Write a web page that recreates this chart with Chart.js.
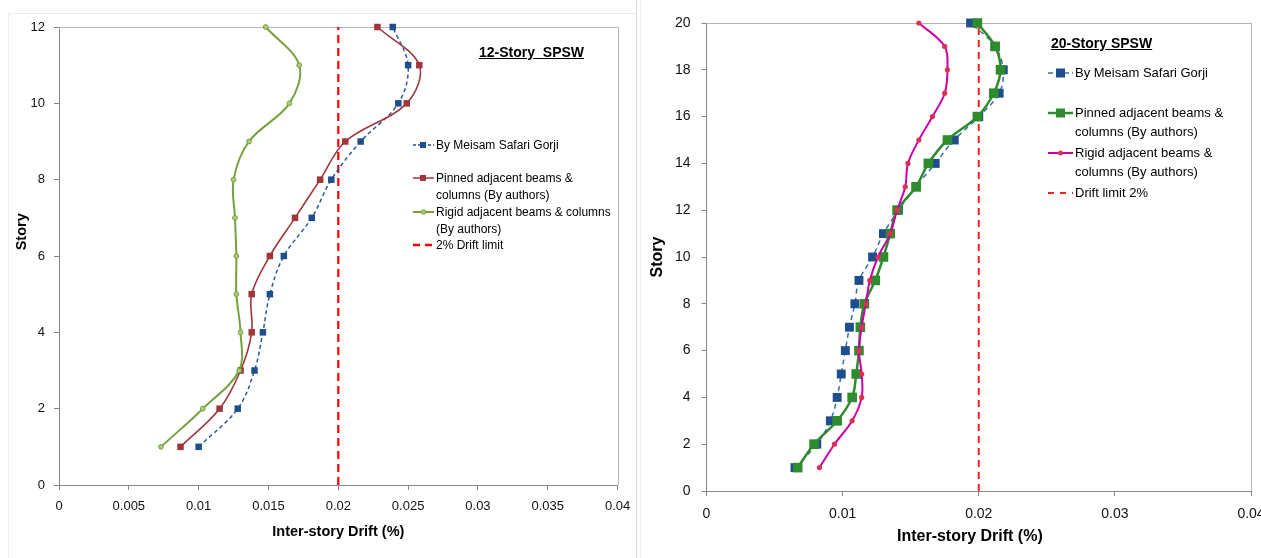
<!DOCTYPE html>
<html lang="en">
<head>
<meta charset="UTF-8">
<meta name="viewport" content="width=device-width, initial-scale=1.0">
<title>SPSW inter-story drift</title>
<style>
  body {
    margin: 0;
    width: 1261px;
    height: 558px;
    overflow: hidden;
    position: relative;
    background: #fff;
    font-family: "Liberation Sans", Arial, sans-serif;
    color: #000;
  }
  .panel { position: absolute; top: 0; height: 558px; }
  #panel12 { left: 0; width: 640px; }
  #panel20 { left: 641px; width: 640px; }
  .frame { position: absolute; left: 8px; top: 13px; width: 628px; height: 545px;
           border-left: 1px solid #ececec; border-top: 1px solid #ececec; }
  .sep { position: absolute; top: 0; height: 558px; width: 1px; }
  .title { position: absolute; font-weight: bold; font-size: 14px; text-decoration: underline;
           white-space: pre; line-height: 16px; }
  .leg { position: absolute; white-space: nowrap; }
  .leg svg { position: absolute; left: 0; }
  .leg span { position: absolute; }
  .l12 { font-size: 12px; line-height: 17px; }
  .l20 { font-size: 13px; line-height: 19px; }
</style>
</head>
<body>
  <div class="frame"></div>
  <div class="sep" style="left:636px;background:#d9d9d9"></div>
  <div class="sep" style="left:640px;background:#ededed"></div>

  <div class="panel" id="panel12"><canvas id="chart12"></canvas></div>
  <div class="panel" id="panel20"><canvas id="chart20"></canvas></div>

  <div class="title" style="left:479px;top:44px">12-Story  SPSW</div>
  <div class="title" style="left:1051px;top:35px">20-Story SPSW</div>

  <!-- legend, 12-story -->
  <div class="leg l12" style="left:413px;top:0">
    <svg width="21" height="12" style="top:139px"><line x1="0" y1="6" x2="21" y2="6" stroke="#1F4E8C" stroke-width="1.5" stroke-dasharray="3,2"/><rect x="7" y="3" width="6" height="6" fill="#1F4E8C"/></svg>
    <span style="left:23px;top:137px">By Meisam Safari Gorji</span>
    <svg width="21" height="12" style="top:172px"><line x1="0" y1="6" x2="21" y2="6" stroke="#A0353A" stroke-width="1.5"/><rect x="7" y="3" width="6" height="6" fill="#A0353A"/></svg>
    <span style="left:23px;top:170px">Pinned adjacent beams &amp;<br>columns (By authors)</span>
    <svg width="21" height="12" style="top:206px"><line x1="0" y1="6" x2="21" y2="6" stroke="#77A03C" stroke-width="2"/><circle cx="10.5" cy="6" r="2.3" fill="#A9CC7A" stroke="#77A03C"/></svg>
    <span style="left:23px;top:204px">Rigid adjacent beams &amp; columns<br>(By authors)</span>
    <svg width="21" height="12" style="top:239px"><line x1="0" y1="6" x2="21" y2="6" stroke="#FF0000" stroke-width="2.5" stroke-dasharray="7,5"/></svg>
    <span style="left:23px;top:237px">2% Drift limit</span>
  </div>

  <!-- legend, 20-story -->
  <div class="leg l20" style="left:1048px;top:0">
    <svg width="25" height="14" style="top:66px"><line x1="0" y1="7" x2="25" y2="7" stroke="#3A6FB0" stroke-width="1.5" stroke-dasharray="5,3"/><rect x="8" y="2.5" width="9" height="9" fill="#1F4E8C"/></svg>
    <span style="left:27px;top:63px">By Meisam Safari Gorji</span>
    <svg width="25" height="14" style="top:106px"><line x1="0" y1="7" x2="25" y2="7" stroke="#2E8B2E" stroke-width="2.5"/><rect x="8" y="2.5" width="9" height="9" fill="#2E8B2E"/></svg>
    <span style="left:27px;top:103px">Pinned adjacent beams &amp;<br>columns (By authors)</span>
    <svg width="25" height="14" style="top:146px"><line x1="0" y1="7" x2="25" y2="7" stroke="#CC00AA" stroke-width="2"/><circle cx="12.5" cy="7" r="2.5" fill="#E03050"/></svg>
    <span style="left:27px;top:143px">Rigid adjacent beams &amp;<br>columns (By authors)</span>
    <svg width="25" height="14" style="top:186px"><line x1="0" y1="7" x2="25" y2="7" stroke="#FF2020" stroke-width="2" stroke-dasharray="6,6"/></svg>
    <span style="left:27px;top:183px">Drift limit 2%</span>
  </div>

  <script src="https://cdn.jsdelivr.net/npm/chart.js"></script>
  <script>
// ---- data ----
const stories12 = [1, 2, 3, 4, 5, 6, 7, 8, 9, 10, 11, 12];
const gorji12  = [0.0100, 0.0128, 0.0140, 0.0146, 0.0151, 0.0161, 0.0181, 0.0195, 0.0216, 0.0243, 0.0250, 0.0239];
const pinned12 = [0.0087, 0.0115, 0.0130, 0.0138, 0.0138, 0.0151, 0.0169, 0.0187, 0.0205, 0.0249, 0.0258, 0.0228];
const rigid12  = [0.0073, 0.0103, 0.0129, 0.0130, 0.0127, 0.0127, 0.0126, 0.0125, 0.0136, 0.0165, 0.0172, 0.0148];

const stories20 = [1, 2, 3, 4, 5, 6, 7, 8, 9, 10, 11, 12, 13, 14, 15, 16, 17, 18, 19, 20];
const gorji20  = [0.0065, 0.0081, 0.0091, 0.0096, 0.0099, 0.0102, 0.0105, 0.0109, 0.0112, 0.0122,
                  0.0130, 0.0141, 0.0154, 0.0168, 0.0182, 0.0200, 0.0215, 0.0218, 0.0212, 0.0194];
const pinned20 = [0.0067, 0.0079, 0.0096, 0.0107, 0.0110, 0.0112, 0.0113, 0.0116, 0.0124, 0.0130,
                  0.0135, 0.0140, 0.0154, 0.0163, 0.0177, 0.0199, 0.0211, 0.0216, 0.0212, 0.0199];
const rigid20  = [0.0083, 0.0094, 0.0107, 0.0114, 0.0114, 0.0112, 0.0114, 0.0117, 0.0120, 0.0126,
                  0.0135, 0.0140, 0.0146, 0.0148, 0.0156, 0.0166, 0.0175, 0.0177, 0.0175, 0.0156];

const driftLimit = [0.02, 0.02];
const limitStories12 = [0, 12];
const limitStories20 = [0, 20];

// ticks
const xTicks12 = [0, 0.005, 0.01, 0.015, 0.02, 0.025, 0.03, 0.035, 0.04];
const xLabels12 = ['0', '0.005', '0.01', '0.015', '0.02', '0.025', '0.03', '0.035', '0.04'];
const yTicks12 = [0, 2, 4, 6, 8, 10, 12];
const xTicks20 = [0, 0.01, 0.02, 0.03, 0.04];
const xLabels20 = ['0', '0.01', '0.02', '0.03', '0.04'];
const yTicks20 = [0, 2, 4, 6, 8, 10, 12, 14, 16, 18, 20];

Chart.defaults.font.family = '"Liberation Sans", Arial, sans-serif';

const toPts = (xs, ys) => xs.map((x, i) => ({ x: x, y: ys[i] }));

// light grey top/right border of the plot area
const plotFrame = {
  id: 'plotFrame',
  beforeDatasetsDraw(chart) {
    const { ctx, chartArea: a } = chart;
    ctx.save();
    ctx.strokeStyle = '#b4b4b4';
    ctx.lineWidth = 1;
    ctx.beginPath();
    ctx.moveTo(a.left, Math.round(a.top) + 0.5);
    ctx.lineTo(Math.round(a.right) + 0.5, Math.round(a.top) + 0.5);
    ctx.lineTo(Math.round(a.right) + 0.5, a.bottom);
    ctx.stroke();
    ctx.restore();
  }
};

function axis(o) {
  return {
    type: 'linear',
    min: o.min,
    max: o.max,
    afterBuildTicks: s => { s.ticks = o.ticks.map(v => ({ value: v })); },
    afterFit: s => {
      if (o.width) s.width = o.width;
      if (o.height) s.height = o.height;
    },
    border: { color: '#868686', width: 1 },
    grid: { drawOnChartArea: false, tickLength: 5, tickColor: '#868686' },
    ticks: {
      color: '#111',
      font: { size: o.tickSize },
      padding: o.tickPad,
      callback: (v, i) => o.labels[i]
    },
    title: {
      display: true,
      text: o.title,
      color: '#000',
      font: { size: o.titleSize, weight: 'bold' },
      padding: o.titlePad
    }
  };
}

function makeChart(id, datasets, scales, padding) {
  new Chart(document.getElementById(id), {
    type: 'scatter',
    data: { datasets: datasets },
    options: {
      responsive: true,
      maintainAspectRatio: false,
      animation: false,
      layout: { padding: padding },
      plugins: { legend: { display: false }, tooltip: { enabled: false } },
      scales: scales
    },
    plugins: [plotFrame]
  });
}

// ---- 12-story ----
makeChart('chart12', [
  {
    label: 'By Meisam Safari Gorji',
    data: toPts(gorji12, stories12),
    showLine: true, tension: 0.35, clip: false, order: 2,
    borderColor: '#2A5A9C', borderWidth: 1.5, borderDash: [4, 3],
    pointStyle: 'rect', pointRadius: 4.6, pointBorderWidth: 0,
    pointBackgroundColor: '#1F4E8C'
  },
  {
    label: 'Pinned adjacent beams & columns (By authors)',
    data: toPts(pinned12, stories12),
    showLine: true, tension: 0.35, clip: false, order: 1,
    borderColor: '#A0353A', borderWidth: 1.6,
    pointStyle: 'rect', pointRadius: 4.6, pointBorderWidth: 0,
    pointBackgroundColor: '#A0353A'
  },
  {
    label: 'Rigid adjacent beams & columns (By authors)',
    data: toPts(rigid12, stories12),
    showLine: true, tension: 0.35, clip: false, order: 0,
    borderColor: '#77A03C', borderWidth: 2,
    pointStyle: 'circle', pointRadius: 2.4, pointBorderWidth: 1,
    pointBorderColor: '#77A03C', pointBackgroundColor: '#A9CC7A'
  },
  {
    label: '2% Drift limit',
    data: toPts(driftLimit, limitStories12),
    showLine: true, clip: false, order: 3,
    borderColor: '#FF0000', borderWidth: 2.2, borderDash: [8, 5],
    pointRadius: 0
  }
], {
  x: axis({ min: 0, max: 0.04, ticks: xTicks12, labels: xLabels12, height: 73,
            tickSize: 13, tickPad: 9, title: 'Inter-story Drift (%)', titleSize: 14.5,
            titlePad: { top: 0, bottom: 17 } }),
  y: axis({ min: 0, max: 12, ticks: yTicks12, labels: yTicks12.map(String), width: 59,
            tickSize: 13, tickPad: 9, title: '            Story', titleSize: 14.5,
            titlePad: { top: 13, bottom: 0 } })
}, { top: 27, right: 22.4, left: 0, bottom: 0 });

// ---- 20-story ----
makeChart('chart20', [
  {
    label: 'By Meisam Safari Gorji',
    data: toPts(gorji20, stories20),
    showLine: true, tension: 0.35, clip: false, order: 2,
    borderColor: '#3A6FB0', borderWidth: 1.5, borderDash: [5, 4],
    pointStyle: 'rect', pointRadius: 6.3, pointBorderWidth: 0,
    pointBackgroundColor: '#1F4E8C'
  },
  {
    label: 'Pinned adjacent beams & columns (By authors)',
    data: toPts(pinned20, stories20),
    showLine: true, tension: 0.35, clip: false, order: 1,
    borderColor: '#2E8B2E', borderWidth: 2.5,
    pointStyle: 'rect', pointRadius: 6.8, pointBorderWidth: 0,
    pointBackgroundColor: '#2E8B2E'
  },
  {
    label: 'Rigid adjacent beams & columns (By authors)',
    data: toPts(rigid20, stories20),
    showLine: true, tension: 0.35, clip: false, order: 0,
    borderColor: '#CC00AA', borderWidth: 2,
    pointStyle: 'circle', pointRadius: 2.6, pointBorderWidth: 0,
    pointBackgroundColor: '#E03050'
  },
  {
    label: 'Drift limit 2%',
    data: toPts(driftLimit, limitStories20),
    showLine: true, clip: false, order: 3,
    borderColor: '#FF2020', borderWidth: 2, borderDash: [7, 5],
    pointRadius: 0
  }
], {
  x: axis({ min: 0, max: 0.04, ticks: xTicks20, labels: xLabels20, height: 67,
            tickSize: 14, tickPad: 10, title: 'Inter-story Drift (%)    ', titleSize: 16,
            titlePad: { top: 0, bottom: 12 } }),
  y: axis({ min: 0, max: 20, ticks: yTicks20, labels: yTicks20.map(String), width: 65.5,
            tickSize: 14, tickPad: 11, title: 'Story', titleSize: 16,
            titlePad: { top: 7, bottom: 0 } })
}, { top: 23, right: 30, left: 0, bottom: 0 });
  </script>
</body>
</html>
